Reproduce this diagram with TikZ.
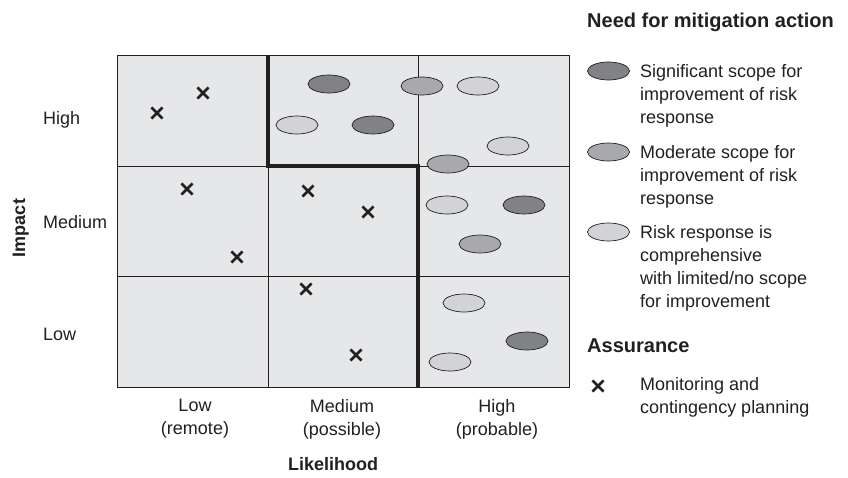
\documentclass[tikz,border=0pt]{standalone}
\usepackage{fontspec}
\setmainfont{Liberation Sans}
\usetikzlibrary{shapes.geometric,shapes.misc}

\definecolor{cellgrey}{HTML}{E6E7E8}
\definecolor{sigfill}{HTML}{808285}
\definecolor{modfill}{HTML}{A7A9AC}
\definecolor{limfill}{HTML}{D1D3D4}
\definecolor{ink}{HTML}{231F20}

\begin{document}
\begin{tikzpicture}[x=1pt,y=-1pt,
  cell/.style={draw=ink, line width=0.9, fill=cellgrey},
  blob/.style={ellipse, draw=ink, line width=0.7, minimum width=42, minimum height=18, inner sep=0},
  sig/.style={blob, fill=sigfill},
  mod/.style={blob, fill=modfill},
  lim/.style={blob, fill=limfill},
  xmark/.style={cross out, draw=ink, line width=2.6, minimum size=8.5, inner sep=0},
  border/.style={line width=4, draw=ink},
  lbl/.style={inner sep=0, font=\fontsize{18}{23}\selectfont, text=ink},
  head/.style={inner sep=0, font=\fontsize{20}{24}\selectfont\bfseries, text=ink},
  axis/.style={inner sep=0, font=\fontsize{18}{22}\selectfont\bfseries, text=ink},
  legtext/.style={lbl, align=left, anchor=north west}
]
\useasboundingbox (0,0) rectangle (848,477);

% grid cells
\foreach \c/\xa/\xb in {0/117/268, 1/268/418, 2/418/569}
  \foreach \r/\ya/\yb in {0/55/166, 1/166/276, 2/276/387}
    \draw[cell] (\xa,\ya) rectangle (\xb,\yb);

% boundary between need for mitigation and assurance
\coordinate (b1) at (268,55);
\coordinate (b2) at (268,166);
\coordinate (b3) at (418,166);
\coordinate (b4) at (418,387);
\draw[border] (b1) -- (b2) -- (b3) -- (b4);

% risks: assurance marks
\node[xmark] (x1) at (157,113) {};
\node[xmark] (x2) at (203,93) {};
\node[xmark] (x3) at (187,189) {};
\node[xmark] (x4) at (237,257) {};
\node[xmark] (x5) at (308,191) {};
\node[xmark] (x6) at (368,212) {};
\node[xmark] (x7) at (306,289) {};
\node[xmark] (x8) at (356,355) {};

% risks: mitigation action
\node[sig] (e1) at (329,84) {};
\node[mod] (e2) at (422,86) {};
\node[lim] (e3) at (478,86) {};
\node[lim] (e4) at (297,125) {};
\node[sig] (e5) at (373,125) {};
\node[lim] (e6) at (508,146) {};
\node[mod] (e7) at (448,164) {};
\node[lim] (e8) at (447,205) {};
\node[sig] (e9) at (524,205) {};
\node[mod] (e10) at (480,244) {};
\node[lim] (e11) at (464,303) {};
\node[sig] (e12) at (527,341) {};
\node[lim] (e13) at (450,362) {};

% impact axis
\node[lbl, anchor=base west] (ih) at (43,124) {High};
\node[lbl, anchor=base west] (im) at (43,228) {Medium};
\node[lbl, anchor=base west] (il) at (43,340) {Low};
\node[axis, rotate=90, anchor=base] (impact) at (25,228) {Impact};

% likelihood axis
\node[lbl, align=center, anchor=north] (ll) at (195,399) {Low\\(remote)};
\node[lbl, align=center, anchor=north] (lm) at (342,399) {Medium\\(possible)};
\node[lbl, align=center, anchor=north] (lh) at (497,399) {High\\(probable)};
\node[axis, anchor=base] (likelihood) at (333,470) {Likelihood};

% legend
\node[head, anchor=base west] (need) at (587,27) {Need for mitigation action};
\node[sig] (ksig) at (608.5,71) {};
\node[legtext] (tsig) at (640,64) {Significant scope for\\improvement of risk\\response};
\node[mod] (kmod) at (608.5,152) {};
\node[legtext] (tmod) at (640,145) {Moderate scope for\\improvement of risk\\response};
\node[lim] (klim) at (608.5,232) {};
\node[legtext] (tlim) at (640,225) {Risk response is\\comprehensive\\with limited/no scope\\for improvement};
\node[head, anchor=base west] (assure) at (587,352) {Assurance};
\node[xmark] (kx) at (598,386) {};
\node[legtext] (tx) at (640,377) {Monitoring and\\contingency planning};
\end{tikzpicture}
\end{document}
